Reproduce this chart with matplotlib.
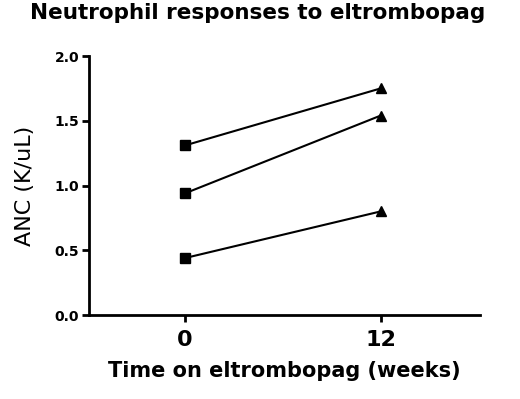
import matplotlib
matplotlib.use('Agg')
import matplotlib.pyplot as plt

# Data
weeks = [0, 12]
anc_week0 = [1.31, 0.94, 0.44]
anc_week12 = [1.75, 1.54, 0.80]

fig = plt.figure(figsize=(5.2, 3.99), dpi=100)
ax = fig.add_axes([0.171, 0.2105, 0.752, 0.649])

# One line per patient: square at baseline, triangle at 12 weeks
for a, b in zip(anc_week0, anc_week12):
  ax.plot(weeks, [a, b], color='black', lw=1.5, zorder=2)
  ax.plot(weeks[0], a, marker='s', ms=7, color='black', ls='none', zorder=3)
  ax.plot(weeks[1], b, marker='^', ms=7, color='black', ls='none', zorder=3)

ax.set_xlim(-5.9, 18.1)
ax.set_ylim(0, 2.0)
ax.set_xticks(weeks)
ax.set_yticks([0.0, 0.5, 1.0, 1.5, 2.0])
ax.set_yticklabels(['0.0', '0.5', '1.0', '1.5', '2.0'], fontsize=10, fontweight='bold')
ax.set_xticklabels(['0', '12'], fontsize=16, fontweight='bold')

for side in ['top', 'right']:
  ax.spines[side].set_visible(False)
for side in ['left', 'bottom']:
  ax.spines[side].set_linewidth(2)
ax.tick_params(axis='both', width=2, length=5, direction='out')
ax.tick_params(axis='x', pad=6)
ax.tick_params(axis='y', pad=2)

ax.set_xlabel('Time on eltrombopag (weeks)', fontsize=15, fontweight='bold', labelpad=8)
ax.set_ylabel('ANC (K/uL)', fontsize=16, labelpad=14)

fig.text(30/520, 1 - 3/399, 'Neutrophil responses to eltrombopag', fontsize=15.5,
         fontweight='bold', ha='left', va='top')

fig.savefig('out.png', dpi=100)
